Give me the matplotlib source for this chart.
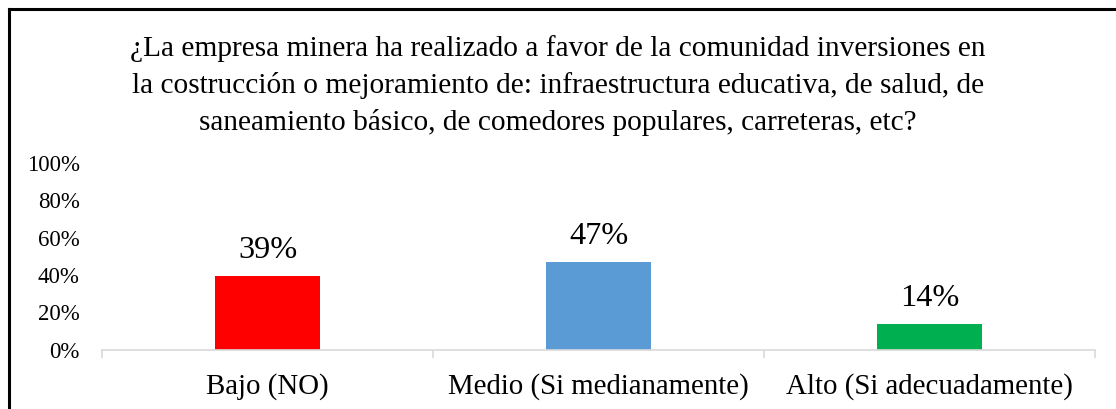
import matplotlib
matplotlib.use("Agg")
import matplotlib.pyplot as plt
from matplotlib.lines import Line2D
from matplotlib.ticker import FixedLocator, PercentFormatter

plt.rcParams['font.family'] = ['Liberation Serif', 'DejaVu Serif']

title = ("¿La empresa minera ha realizado a favor de la comunidad inversiones en\n"
         "la costrucción o mejoramiento de: infraestructura educativa, de salud, de\n"
         "saneamiento básico, de comedores populares, carreteras, etc?")
categories = ["Bajo (NO)", "Medio (Si medianamente)", "Alto (Si adecuadamente)"]
values = [0.395, 0.47, 0.135]
value_labels = ["39%", "47%", "14%"]
colors = ["#FF0000", "#5B9BD5", "#00B050"]
yticks = [0, 0.2, 0.4, 0.6, 0.8, 1.0]

W, H = 1116, 409
dpi = 100
fig = plt.figure(figsize=(W / dpi, H / dpi), dpi=dpi)

ax = fig.add_axes([102 / W, 1 - 349.5 / H, (1095 - 102) / W, (349.5 - 163) / H])
x = list(range(len(categories)))
bars = ax.bar(x, values, width=0.315, color=colors)
ax.set_xlim(-0.5, len(categories) - 0.5)
ax.set_ylim(0, 1)

ax.set_yticks(yticks)
ax.yaxis.set_major_formatter(PercentFormatter(1.0, decimals=0))
ax.tick_params(axis='y', length=0, pad=16, labelsize=16.5)

ax.set_xticks(x)
ax.set_xticklabels(categories)
ax.tick_params(axis='x', which='major', length=0, pad=17, labelsize=20.8)
ax.xaxis.set_minor_locator(FixedLocator([i - 0.5 for i in range(len(categories) + 1)]))
ax.tick_params(axis='x', which='minor', length=5.5, width=1.2, color='#D9D9D9')

for s in ['top', 'right', 'left']:
    ax.spines[s].set_visible(False)
ax.spines['bottom'].set_color('#D9D9D9')
ax.spines['bottom'].set_linewidth(1.2)

for xi, v, lab in zip(x, values, value_labels):
    ax.annotate(lab, (xi, v), xytext=(0, 18), textcoords='offset pixels',
                ha='center', va='baseline', fontsize=23.2)

fig.text(0.5, 1 - 130 / H, title, ha='center', va='baseline', fontsize=21.2,
         linespacing=1.48)

# chart frame (top and left edges visible)
fig.add_artist(Line2D([9 / W, 1.0], [1 - 9 / H, 1 - 9 / H], transform=fig.transFigure,
                      color='black', lw=2.2))
fig.add_artist(Line2D([9 / W, 9 / W], [0, 1 - 9 / H], transform=fig.transFigure,
                      color='black', lw=2.2))

fig.savefig("out.png", dpi=dpi, facecolor='white')
